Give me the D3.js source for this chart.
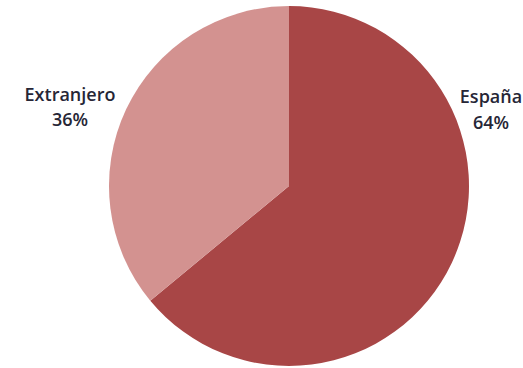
<!DOCTYPE html>
<html>
<head>
<meta charset="utf-8">
<script src="https://cdn.jsdelivr.net/npm/d3@7"></script>
<style>
  body { margin: 0; background: #fff; }
  svg { display: block; }
</style>
</head>
<body>
<svg id="chart" width="523" height="368"></svg>
<script>
// data
const categories = ["España", "Extranjero"];
const values = [64, 36];
const colors = ["#a84646", "#d39290"];

const svg = d3.select("#chart");
const cx = 289, cy = 186, radius = 180;

const pie = d3.pie().sort(null).value(d => d.value);
const arcs = pie(categories.map((c, i) => ({ name: c, value: values[i], color: colors[i] })));
const arc = d3.arc().innerRadius(0).outerRadius(radius);

const g = svg.append("g").attr("transform", `translate(${cx},${cy})`);
g.selectAll("path")
  .data(arcs)
  .enter().append("path")
  .attr("d", arc)
  .attr("fill", d => d.data.color);

// label positions (outside the pie, as in the picture), baselines of the two lines
const labelPos = { "España": [491, 103, 26], "Extranjero": [70, 101, 25] };
arcs.forEach(d => {
  const [x, y, gap] = labelPos[d.data.name];
  const t = svg.append("text")
    .attr("x", x).attr("y", y)
    .attr("text-anchor", "middle")
    .attr("font-family", "'Open Sans', sans-serif")
    .attr("font-size", "18px")
    .attr("font-weight", 600)
    .attr("fill", "#262636");
  t.append("tspan").attr("x", x).attr("dy", 0).text(d.data.name);
  t.append("tspan").attr("x", x).attr("dy", gap).text(d.data.value + "%");
});
</script>
</body>
</html>
